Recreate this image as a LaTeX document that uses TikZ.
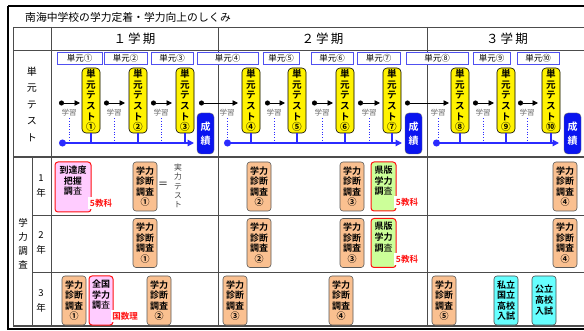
\documentclass[tikz,border=0pt]{standalone}
\usepackage{fontspec}
\setmainfont{Noto Sans CJK JP}[BoldFont={Noto Sans CJK JP Bold}]
\usetikzlibrary{arrows.meta}
\definecolor{peach}{HTML}{FAC090}
\definecolor{pinkf}{HTML}{FFCCFF}
\definecolor{greenf}{HTML}{CCFF99}
\definecolor{cyanf}{HTML}{66FFFF}
\definecolor{bluebox}{HTML}{0A14F0}
\definecolor{blueln}{HTML}{2B2BFF}
\definecolor{unitbl}{HTML}{5050F0}
\definecolor{redl}{HTML}{FF1010}
\tikzset{
  tbl/.style={draw=black!70, line width=0.8pt},
  unitbox/.style={draw=unitbl, line width=0.7pt, fill=white, minimum height=12pt, inner sep=0pt, font=\fontsize{8.5}{9}\selectfont},
  testbox/.style={draw=black, line width=0.6pt, fill=yellow, rounded corners=4pt, minimum width=18pt, minimum height=65pt, inner sep=0pt, align=center, font=\bfseries\fontsize{9.6}{10.6}\selectfont},
  gradebox/.style={rounded corners=3pt, line width=0.6pt, minimum width=24pt, minimum height=49pt, inner sep=0pt, align=center, font=\bfseries\fontsize{9}{10.6}\selectfont},
  diagbox/.style={gradebox, draw=black!65, fill=peach},
  specbox/.style={gradebox, draw=redl, line width=1pt},
  nyushi/.style={gradebox, draw=black!70, fill=cyanf},
  seiseki/.style={draw=black!60, fill=bluebox, rounded corners=4pt, minimum width=17pt, minimum height=41pt, inner sep=0pt, align=center, text=white, font=\bfseries\fontsize{10}{14}\selectfont},
  learnarrow/.style={line width=0.9pt, {Circle[length=5pt]}-{Triangle[length=5.5pt,width=5.5pt]}},
  bluearrow/.style={draw=blueln, line width=1.3pt, {Circle[length=7pt]}-{Triangle[length=6.5pt,width=6.5pt]}},
  blueconn/.style={draw=blueln, line width=1.2pt},
  dotline/.style={draw=blueln, line width=0.7pt, dotted},
  learnlbl/.style={text=black!60, font=\fontsize{7.5}{8}\selectfont, inner sep=0pt},
  redlbl/.style={fill=white, text=redl, font=\bfseries\fontsize{8.5}{9}\selectfont, inner sep=1.5pt},
  vlabel/.style={align=center, inner sep=0pt},
}
\begin{document}
\begin{tikzpicture}[x=1pt,y=-1pt]
\useasboundingbox (0,0) rectangle (584,331);
% outer frame
\draw[line width=2pt] (8,6) -- (600,6);
\draw[line width=2pt] (8,6) -- (8,329) -- (600,329);
\node[anchor=west, font=\fontsize{10.8}{12}\selectfont, inner sep=0pt] (title) at (25,17) {南海中学校の学力定着・学力向上のしくみ};
% table lines
\draw[tbl] (13,27) -- (600,27);
\draw[tbl] (13,50) -- (600,50);
\draw[tbl, line width=1.4pt] (13,157) -- (600,157);
\draw[tbl] (32,215) -- (600,215);
\draw[tbl] (32,272) -- (600,272);
\draw[tbl, line width=1.2pt] (13,326) -- (600,326);
\draw[tbl] (13,27) -- (13,326);
\draw[tbl] (32,157) -- (32,326);
\draw[tbl] (51,27) -- (51,326);
\draw[tbl] (218,27) -- (218,326);
\draw[tbl] (427,27) -- (427,326);
% period headers
\node[font=\fontsize{12.5}{14}\selectfont] (p1) at (134.5,39) {１\,学\,期};
\node[font=\fontsize{12.5}{14}\selectfont] (p2) at (322.5,39) {２\,学\,期};
\node[font=\fontsize{12.5}{14}\selectfont] (p3) at (507,39) {３\,学\,期};
% row labels
\node[vlabel, font=\fontsize{10}{16.5}\selectfont] (rowunit) at (32,104) {単\\元\\テ\\ス\\ト};
\node[vlabel, font=\fontsize{9.5}{14}\selectfont] (rowsurvey) at (23,244) {学\\力\\調\\査};
\node[vlabel, font=\fontsize{9.5}{14.5}\selectfont] (g1) at (41,186) {1\\年};
\node[vlabel, font=\fontsize{9.5}{14.5}\selectfont] (g2) at (41,243) {2\\年};
\node[vlabel, font=\fontsize{9.5}{14.5}\selectfont] (g3) at (41,301) {3\\年};
% unit boxes
\foreach \a/\b/\n [count=\i] in {57/102/①,104/147/②,151/193/③,197/258/④,263/299/⑤,311/353/⑥,357/400/⑦,406/468/⑧,473/510/⑨,517/559/⑩}{
  \pgfmathsetmacro{\w}{\b-\a}
  \node[unitbox, minimum width=\w pt] (u\i) at ({(\a+\b)/2},58.5) {単元\n};
}
% unit tests
\foreach \x/\n [count=\i] in {91/①,138/②,185/③,251/④,297/⑤,345/⑥,392/⑦,460/⑧,506/⑨,551/⑩}{
  \node[testbox] (t\i) at (\x,100.5) {単\\元\\テ\\ス\\ト\\\n};
  \coordinate (tb\i) at (\x,143);
}
% seiseki boxes
\node[seiseki] (s1) at (205.5,133.5) {成\\績};
\node[seiseki] (s2) at (413.5,133.5) {成\\績};
\node[seiseki] (s3) at (572.5,133.5) {成\\績};
% learning arrows
\foreach \a/\b [count=\i] in {59/80,104/125,151/172,199/238,265/285,312/333,358/380,405/449,473/494,518/538}{
  \coordinate (ls\i) at (\a,103);
  \coordinate (le\i) at (\b,103);
  \draw[learnarrow] (ls\i) -- (le\i);
  \node[learnlbl] (ll\i) at (\b-11,112.5) {学習};
  \coordinate (dl\i) at (\b-11,141);
  \draw[dotline] (ll\i.south) ++(0,2) -- (dl\i);
}
% blue timelines
\coordinate (b1s) at (59,143); \coordinate (b1e) at (194,143);
\coordinate (b2s) at (224,143); \coordinate (b2e) at (402,143);
\coordinate (b3s) at (433,143); \coordinate (b3e) at (559,143);
\foreach \i in {1,...,10}{ \draw[blueconn] (t\i.south) -- (tb\i); }
\draw[bluearrow] (b1s) -- (b1e);
\draw[bluearrow] (b2s) -- (b2e);
\draw[bluearrow] (b3s) -- (b3e);
% surveys row 1
\node[specbox, fill=pinkf, minimum width=36pt, minimum height=50pt] (tat) at (73,187) {到達度\\把握\\調\mdseries 査\\[3pt]};
\node[redlbl] (tatl) at (101,203) {5教科};
\node[diagbox] (d11) at (145,186.5) {学力\\診断\\調査\\①};
\node[font=\fontsize{10}{10}\selectfont, inner sep=0pt] (eq) at (163,185) {＝};
\node[vlabel, text=black!75, font=\fontsize{7.8}{9.3}\selectfont] (jitsu) at (178,186) {実\\力\\テ\\ス\\ト};
\node[diagbox] (d12) at (259,186.5) {学力\\診断\\調査\\②};
\node[diagbox] (d13) at (352,186.5) {学力\\診断\\調査\\③};
\node[specbox, fill=greenf, minimum width=25pt] (ken1) at (383.5,186.5) {県版\\学力\\調\mdseries 査\\[2pt]};
\node[redlbl] (ken1l) at (407,202) {5教科};
\node[diagbox] (d14) at (565,186.5) {学力\\診断\\調査\\④};
% row 2
\node[diagbox] (d21) at (145,243) {学力\\診断\\調査\\①};
\node[diagbox] (d22) at (259,243) {学力\\診断\\調査\\②};
\node[diagbox] (d23) at (352,243) {学力\\診断\\調査\\③};
\node[specbox, fill=greenf, minimum width=25pt] (ken2) at (383.5,243) {県版\\学力\\調\mdseries 査\\[2pt]};
\node[redlbl] (ken2l) at (407,259) {5教科};
\node[diagbox] (d24) at (565,243) {学力\\診断\\調査\\④};
% row 3
\node[diagbox] (d31) at (74,300.5) {学力\\診断\\調査\\①};
\node[specbox, fill=pinkf] (zen) at (101,300.5) {全国\\学力\\調\mdseries 査\\[2pt]};
\node[redlbl] (zenl) at (125,316) {国数理};
\node[diagbox] (d32) at (159,300.5) {学力\\診断\\調査\\②};
\node[diagbox] (d33) at (235,300.5) {学力\\診断\\調査\\③};
\node[diagbox] (d34) at (341,300.5) {学力\\診断\\調査\\④};
\node[diagbox] (d35) at (444,300.5) {学力\\診断\\調査\\⑤};
\node[nyushi] (shi) at (506,300.5) {私立\\国立\\高校\\入試};
\node[nyushi, font=\bfseries\fontsize{9}{11}\selectfont] (ko) at (544,300.5) {公立\\高校\\入試};
\end{tikzpicture}
\end{document}
